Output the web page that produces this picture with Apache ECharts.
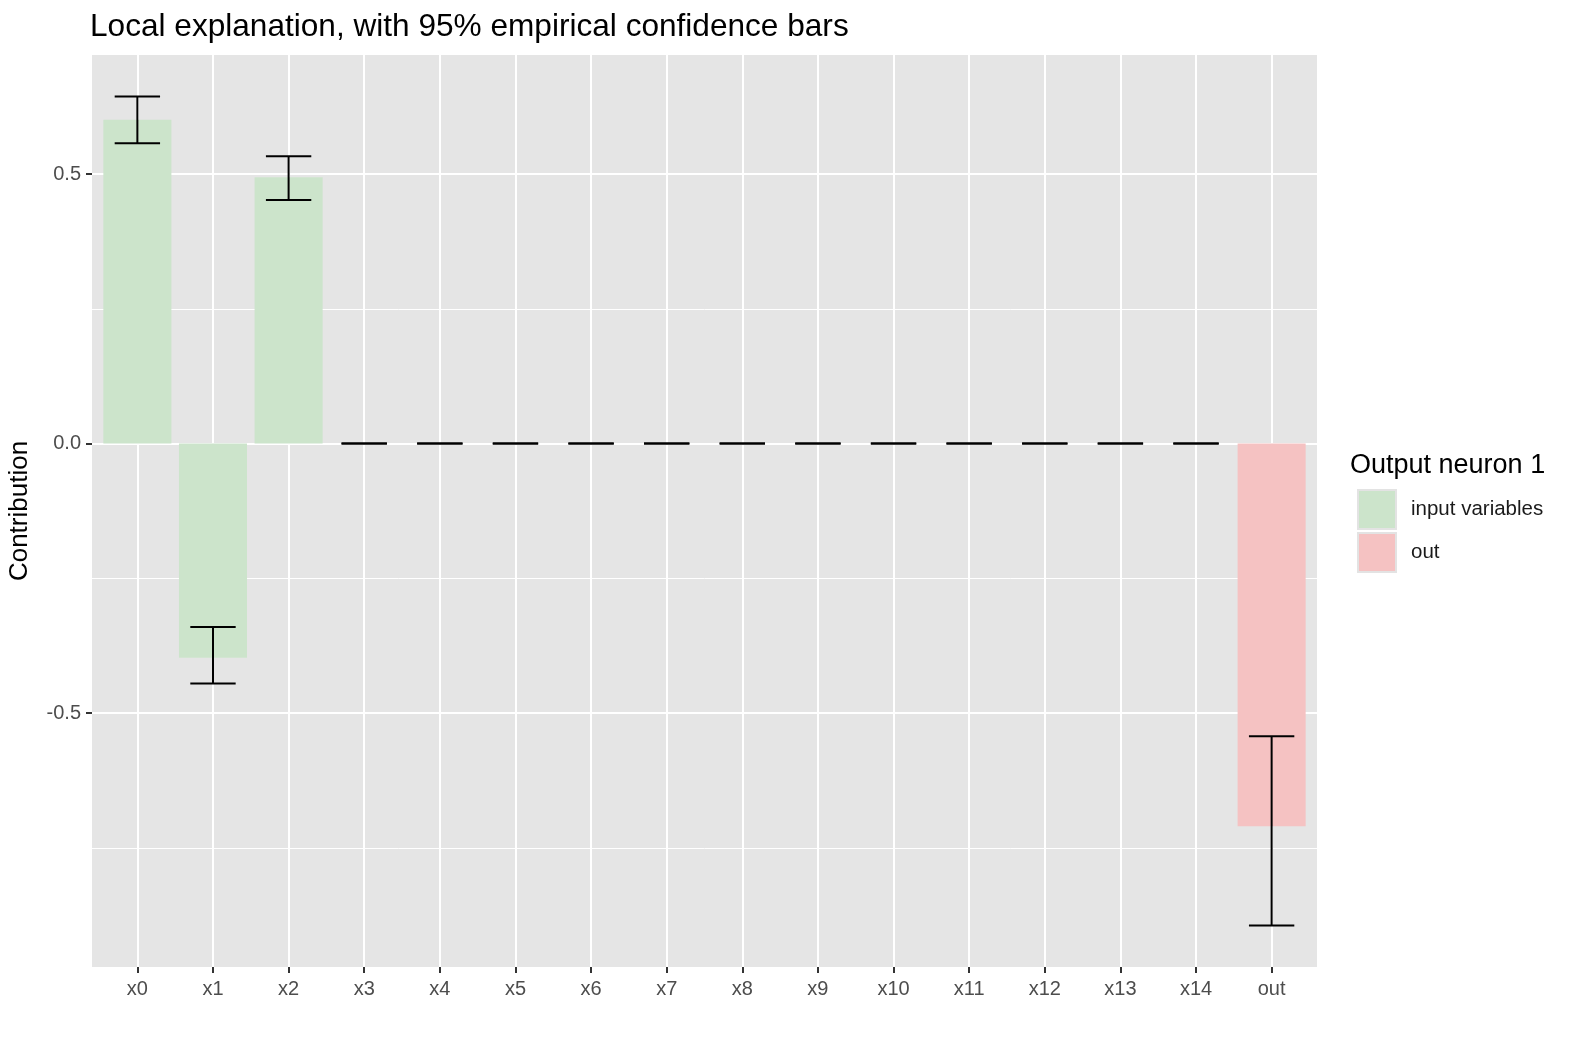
<!DOCTYPE html>
<html>
<head>
<meta charset="utf-8">
<script src="https://cdn.jsdelivr.net/npm/echarts@6/dist/echarts.min.js"></script>
<style>
  html, body { margin: 0; padding: 0; background: #fff; }
  #chart { width: 1573px; height: 1043px; }
</style>
</head>
<body>
<div id="chart"></div>
<script>
// values
const categories = ['x0', 'x1', 'x2', 'x3', 'x4', 'x5', 'x6', 'x7', 'x8', 'x9', 'x10', 'x11', 'x12', 'x13', 'x14', 'out'];
const contribution = [0.601, -0.397, 0.494, 0, 0, 0, 0, 0, 0, 0, 0, 0, 0, 0, 0, -0.710];
const lowerBound = [0.557, -0.445, 0.452, 0, 0, 0, 0, 0, 0, 0, 0, 0, 0, 0, 0, -0.894];
const upperBound = [0.644, -0.340, 0.533, 0, 0, 0, 0, 0, 0, 0, 0, 0, 0, 0, 0, -0.543];
const groups = ['input variables', 'input variables', 'input variables', 'input variables', 'input variables',
  'input variables', 'input variables', 'input variables', 'input variables', 'input variables',
  'input variables', 'input variables', 'input variables', 'input variables', 'input variables', 'out'];
const groupNames = ['input variables', 'out'];
const majorTicks = [-0.5, 0, 0.5];
const minorTicks = [-0.75, -0.25, 0.25];

const FONT = 'Liberation Sans, Arial, Helvetica, sans-serif';
const colors = { 'input variables': '#CCE4CB', 'out': '#F5C2C2' };

const chart = echarts.init(document.getElementById('chart'));

// ggplot-like expansion: 5% of the data range on y, 0.6 category on x
const lo = Math.min(...lowerBound, ...contribution);
const hi = Math.max(...upperBound, ...contribution);
const pad = (hi - lo) * 0.05;
const yMin = lo - pad, yMax = hi + pad;
const xIdx = categories.map((c, i) => i);

function renderBar(params, api) {
  const x = api.value(0);
  const base = api.coord([x, 0]);
  const top = api.coord([x, api.value(1)]);
  const w = api.size([0.9, 0])[0];
  return {
    type: 'rect',
    shape: { x: base[0] - w / 2, y: Math.min(base[1], top[1]), width: w, height: Math.abs(top[1] - base[1]) },
    style: api.style()
  };
}

function renderErr(params, api) {
  const x = api.value(0);
  const a = api.coord([x, api.value(1)]);
  const b = api.coord([x, api.value(2)]);
  const hw = api.size([0.6, 0])[0] / 2;
  const st = { stroke: '#000', lineWidth: 2 };
  return {
    type: 'group',
    children: [
      { type: 'line', shape: { x1: a[0], y1: a[1], x2: b[0], y2: b[1] }, style: st },
      { type: 'line', shape: { x1: a[0] - hw, y1: a[1], x2: a[0] + hw, y2: a[1] }, style: st },
      { type: 'line', shape: { x1: b[0] - hw, y1: b[1], x2: b[0] + hw, y2: b[1] }, style: st }
    ]
  };
}

const barSeries = groupNames.map(g => ({
  name: g,
  type: 'custom',
  renderItem: renderBar,
  itemStyle: { color: colors[g] },
  encode: { x: 0, y: 1 },
  z: 3,
  data: xIdx.filter(i => groups[i] === g).map(i => [i, contribution[i]])
}));

chart.setOption({
  animation: false,
  backgroundColor: '#fff',
  textStyle: { fontFamily: FONT },
  title: [
    {
      text: 'Local explanation, with 95% empirical confidence bars',
      left: 90, top: 11, padding: 0,
      textStyle: { fontFamily: FONT, fontSize: 31.6, fontWeight: 'normal', color: '#000' }
    },
    {
      text: 'Output neuron 1',
      left: 1350, top: 452, padding: 0,
      textStyle: { fontFamily: FONT, fontSize: 27, fontWeight: 'normal', color: '#000' }
    }
  ],
  legend: {
    orient: 'vertical',
    left: 1357, top: 489,
    itemWidth: 38, itemHeight: 39, itemGap: 2,
    icon: 'rect',
    padding: 0,
    selectedMode: false,
    itemStyle: { borderColor: '#E3E3E3', borderWidth: 2 },
    textStyle: { fontFamily: FONT, fontSize: 20.5, color: '#1a1a1a', padding: [0, 0, 0, 10] },
    data: groupNames
  },
  grid: {
    left: 92, top: 55, right: 256, bottom: 76,
    outerBoundsMode: 'none',
    containLabel: false,
    show: true, backgroundColor: '#E5E5E5', borderWidth: 0
  },
  xAxis: {
    type: 'value',
    min: -0.6, max: categories.length - 1 + 0.6,
    axisLine: { show: false, onZero: false },
    axisTick: { show: true, length: 6, lineStyle: { color: '#333', width: 2 }, customValues: xIdx },
    axisLabel: {
      customValues: xIdx, margin: 12,
      formatter: v => categories[Math.round(v)],
      fontFamily: FONT, fontSize: 20, color: '#4D4D4D'
    },
    splitLine: { show: true, lineStyle: { color: '#fff', width: 2 } }
  },
  yAxis: [
    {
      type: 'value',
      min: yMin, max: yMax,
      name: 'Contribution',
      nameLocation: 'middle', nameGap: 59, nameRotate: 90,
      nameTextStyle: { fontFamily: FONT, fontSize: 26, color: '#000' },
      axisLine: { show: false, onZero: false },
      axisTick: { show: true, length: 6, lineStyle: { color: '#333', width: 2 }, customValues: majorTicks },
      axisLabel: {
        customValues: majorTicks, margin: 11,
        formatter: v => v.toFixed(1),
        fontFamily: FONT, fontSize: 20, color: '#4D4D4D'
      },
      splitLine: { show: true, lineStyle: { color: '#fff', width: 2 } }
    },
    {
      type: 'value',
      min: yMin, max: yMax,
      position: 'left',
      axisLine: { show: false, onZero: false },
      axisTick: { show: false, customValues: minorTicks },
      axisLabel: { show: false, customValues: minorTicks },
      splitLine: { show: true, lineStyle: { color: '#fff', width: 1 } }
    }
  ],
  series: barSeries.concat([
    {
      name: 'confidence',
      type: 'custom',
      renderItem: renderErr,
      encode: { x: 0, y: [1, 2] },
      z: 4,
      data: xIdx.map(i => [i, lowerBound[i], upperBound[i]])
    }
  ])
});
</script>
</body>
</html>
